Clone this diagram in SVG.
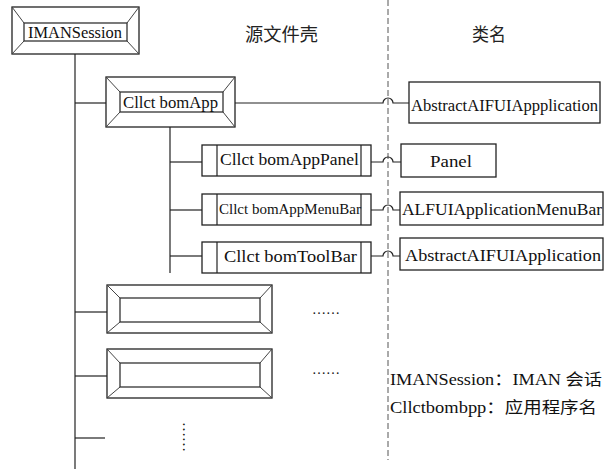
<svg xmlns="http://www.w3.org/2000/svg" width="613" height="469" viewBox="0 0 613 469">
<style>
.ln{stroke:#222;stroke-width:1.2;fill:none}
.bx{fill:#fff;stroke:#222;stroke-width:1.3}
.in{fill:#fff;stroke:#333;stroke-width:1.3}
.dg{stroke:#444;stroke-width:1}
.t{font-family:'Liberation Serif','Times New Roman','DejaVu Serif','Noto Sans CJK SC',serif;fill:#111}
.c{font-family:'Noto Sans CJK SC','Liberation Serif',sans-serif;fill:#222}
.dash{stroke:#555;stroke-width:1;stroke-dasharray:6 3;fill:none}
</style>
<rect width="613" height="469" fill="#fff"/>
<line class="dash" x1="388" y1="0" x2="388" y2="460"/>
<text class="c" x="245" y="41" font-size="18" textLength="73" lengthAdjust="spacingAndGlyphs">源文件壳</text>
<text class="c" x="472" y="41" font-size="18" textLength="34" lengthAdjust="spacingAndGlyphs">类名</text>
<g id="connectors">
<line class="ln" x1="75" y1="54" x2="75" y2="469"/>
<line class="ln" x1="75" y1="103" x2="106" y2="103"/>
<line class="ln" x1="170" y1="127" x2="170" y2="273"/>
<line class="ln" x1="170" y1="162" x2="202" y2="162"/>
<line class="ln" x1="170" y1="210" x2="202" y2="210"/>
<line class="ln" x1="170" y1="256" x2="202" y2="256"/>
<line class="ln" x1="75" y1="312" x2="107" y2="312"/>
<line class="ln" x1="75" y1="376" x2="107" y2="376"/>
<line class="ln" x1="75" y1="438" x2="105" y2="438"/>
<path class="ln" d="M235 103 H383 A5 5 0 0 1 393 103 H409"/>
<path class="ln" d="M371 162 H383 A5 5 0 0 1 393 162 H401"/>
<path class="ln" d="M371 210 H383 A5 5 0 0 1 393 210 H400"/>
<path class="ln" d="M371 256 H383 A5 5 0 0 1 393 256 H400"/>
</g>
<g id="n-imansession">
<rect class="bx" x="12" y="7" width="127" height="47"/>
<line class="dg" x1="12" y1="7" x2="24" y2="23"/><line class="dg" x1="139" y1="7" x2="127" y2="23"/>
<line class="dg" x1="12" y1="54" x2="24" y2="41"/><line class="dg" x1="139" y1="54" x2="127" y2="41"/>
<rect class="in" x="24" y="23" width="103" height="18"/>
<text class="t" x="28" y="37.5" font-size="16.5" textLength="94" lengthAdjust="spacingAndGlyphs">IMANSession</text>
</g>
<g id="n-bomapp">
<rect class="bx" x="106" y="77" width="129" height="50"/>
<line class="dg" x1="106" y1="77" x2="120" y2="92"/><line class="dg" x1="235" y1="77" x2="223" y2="92"/>
<line class="dg" x1="106" y1="127" x2="120" y2="112"/><line class="dg" x1="235" y1="127" x2="223" y2="112"/>
<rect class="in" x="120" y="92" width="103" height="20"/>
<text class="t" x="123" y="108" font-size="16.5" textLength="95" lengthAdjust="spacingAndGlyphs">Cllct bomApp</text>
</g>
<g id="n-panel-src">
<rect class="bx" x="202" y="145" width="169" height="31"/>
<line class="ln" x1="217" y1="145" x2="217" y2="176"/><line class="ln" x1="361" y1="145" x2="361" y2="176"/>
<text class="t" x="220" y="165" font-size="16" textLength="139" lengthAdjust="spacingAndGlyphs">Cllct bomAppPanel</text>
</g>
<g id="n-menubar-src">
<rect class="bx" x="202" y="194" width="169" height="31"/>
<line class="ln" x1="217" y1="194" x2="217" y2="225"/><line class="ln" x1="361" y1="194" x2="361" y2="225"/>
<text class="t" x="219" y="214" font-size="14" textLength="142" lengthAdjust="spacingAndGlyphs">Cllct bomAppMenuBar</text>
</g>
<g id="n-toolbar-src">
<rect class="bx" x="202" y="242" width="169" height="31"/>
<line class="ln" x1="217" y1="242" x2="217" y2="273"/><line class="ln" x1="361" y1="242" x2="361" y2="273"/>
<text class="t" x="224" y="262" font-size="16" textLength="133" lengthAdjust="spacingAndGlyphs">Cllct bomToolBar</text>
</g>
<g id="n-abstract1">
<rect class="bx" x="409" y="82" width="191" height="41"/>
<text class="t" x="411" y="111" font-size="16" textLength="187" lengthAdjust="spacingAndGlyphs">AbstractAIFUIAppplication</text>
</g>
<g id="n-panel">
<rect class="bx" x="401" y="144" width="95" height="33"/>
<text class="t" x="430" y="167" font-size="16" textLength="42" lengthAdjust="spacingAndGlyphs">Panel</text>
</g>
<g id="n-menubar">
<rect class="bx" x="400" y="192" width="203" height="33"/>
<text class="t" x="402" y="215" font-size="16" textLength="200" lengthAdjust="spacingAndGlyphs">ALFUIApplicationMenuBar</text>
</g>
<g id="n-abstract2">
<rect class="bx" x="400" y="238" width="203" height="32"/>
<text class="t" x="405" y="261" font-size="16" textLength="196" lengthAdjust="spacingAndGlyphs">AbstractAIFUIApplication</text>
</g>
<g id="n-empty1">
<rect class="bx" x="107" y="285" width="165" height="48"/>
<line class="dg" x1="107" y1="285" x2="120" y2="298"/><line class="dg" x1="272" y1="285" x2="260" y2="298"/>
<line class="dg" x1="107" y1="333" x2="120" y2="322"/><line class="dg" x1="272" y1="333" x2="260" y2="322"/>
<rect class="in" x="120" y="298" width="140" height="24"/>
</g>
<g id="n-empty2">
<rect class="bx" x="107" y="349" width="165" height="49"/>
<line class="dg" x1="107" y1="349" x2="120" y2="363"/><line class="dg" x1="272" y1="349" x2="260" y2="363"/>
<line class="dg" x1="107" y1="398" x2="120" y2="387"/><line class="dg" x1="272" y1="398" x2="260" y2="387"/>
<rect class="in" x="120" y="363" width="140" height="24"/>
</g>
<text class="t" x="312" y="314" font-size="14" textLength="28" lengthAdjust="spacingAndGlyphs">……</text>
<text class="t" x="312" y="374" font-size="14" textLength="28" lengthAdjust="spacingAndGlyphs">……</text>
<text class="t" x="0" y="0" font-size="14" textLength="30" lengthAdjust="spacingAndGlyphs" transform="translate(183 422) rotate(90)">……</text>
<text class="t" x="390" y="385" font-size="16" textLength="212" lengthAdjust="spacingAndGlyphs">IMANSession：IMAN 会话</text>
<text class="t" x="390" y="413" font-size="16" textLength="207" lengthAdjust="spacingAndGlyphs">Cllctbombpp：应用程序名</text>
</svg>
